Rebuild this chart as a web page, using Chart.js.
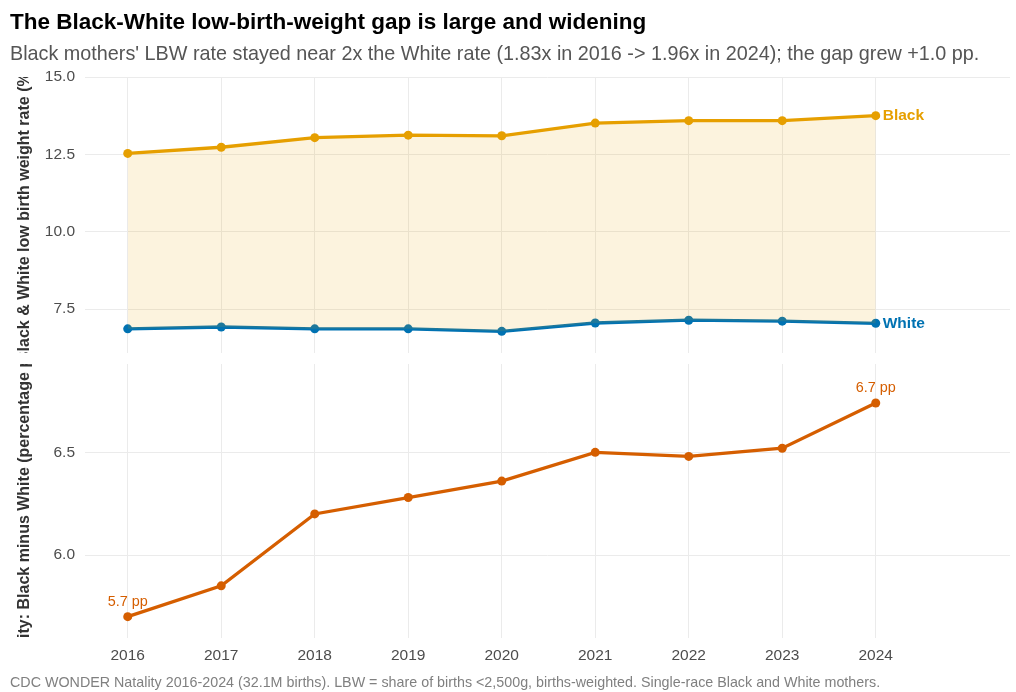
<!DOCTYPE html>
<html>
<head>
<meta charset="utf-8">
<script src="https://cdn.jsdelivr.net/npm/chart.js@4.4.1/dist/chart.umd.min.js"></script>
<style>
  html, body { margin: 0; padding: 0; background: #ffffff; }
  body { width: 1016px; height: 692px; position: relative; overflow: hidden; font-family: 'Liberation Sans', Arial, sans-serif; }
  canvas { position: absolute; left: 0; top: 0; }
  #title { position: absolute; left: 10px; top: 8.5px; font-size: 22.5px; line-height: normal; font-weight: bold; color: #000; white-space: nowrap; }
  #subtitle { position: absolute; left: 10px; top: 42px; font-size: 19.8px; line-height: normal; color: #555; white-space: nowrap; }
  #caption { position: absolute; left: 10px; top: 674px; font-size: 14.3px; line-height: normal; color: #808080; white-space: nowrap; }
</style>
</head>
<body>
<canvas id="topChart" width="1016" height="692"></canvas>
<canvas id="bottomChart" width="1016" height="692"></canvas>
<div id="title">The Black-White low-birth-weight gap is large and widening</div>
<div id="subtitle">Black mothers' LBW rate stayed near 2x the White rate (1.83x in 2016 -&gt; 1.96x in 2024); the gap grew +1.0 pp.</div>
<div id="caption">CDC WONDER Natality 2016-2024 (32.1M births). LBW = share of births &lt;2,500g, births-weighted. Single-race Black and White mothers.</div>
<script>
// ---- Data ----
const years = [2016, 2017, 2018, 2019, 2020, 2021, 2022, 2023, 2024];
const blackRate = [12.53, 12.73, 13.04, 13.12, 13.10, 13.51, 13.59, 13.59, 13.75];
const whiteRate = [6.86, 6.92, 6.86, 6.86, 6.78, 7.05, 7.14, 7.11, 7.04];
const gapPP = [5.70, 5.85, 6.20, 6.28, 6.36, 6.50, 6.48, 6.52, 6.74];
const topTicks = [7.5, 10.0, 12.5, 15.0];
const bottomTicks = [6.0, 6.5];
const xTicks = years;
const seriesNames = ['Black', 'White'];
const topTitle = 'Black & White low birth weight rate (%)';
const bottomTitle = 'Disparity: Black minus White (percentage points)';

// ---- Styles ----
const COL_BLACK = '#E69F00';
const COL_WHITE = '#0072B2';
const COL_GAP = '#D55E00';
const GRID = '#ebebeb';
const FONT = "'Liberation Sans', Arial, sans-serif";
Chart.defaults.font.family = FONT;
Chart.defaults.devicePixelRatio = 1;

const toXY = (vals) => years.map((y, i) => ({ x: y, y: vals[i] }));

const X_MIN = 2015.543, X_MAX = 2025.436;

function yTitlePlugin(text) {
  return {
    id: 'yTitle',
    afterDraw(chart) {
      const ca = chart.chartArea, ctx = chart.ctx;
      ctx.save();
      ctx.beginPath();
      ctx.rect(0, ca.top, ca.left, ca.bottom - ca.top);
      ctx.clip();
      ctx.translate(25, (ca.top + ca.bottom) / 2);
      ctx.rotate(-Math.PI / 2);
      ctx.font = 'bold 16px ' + FONT;
      ctx.fillStyle = '#333333';
      ctx.textAlign = 'center';
      ctx.textBaseline = 'middle';
      ctx.fillText(text, 0, 0);
      ctx.restore();
    }
  };
}

function xScaleOpts(showLabels) {
  return {
    type: 'linear',
    min: X_MIN, max: X_MAX,
    afterBuildTicks: (s) => { s.ticks = xTicks.map(v => ({ value: v })); },
    afterFit: (s) => { s.height = showLabels ? 30 : 0; },
    grid: { color: GRID, lineWidth: 1, drawTicks: false, tickLength: 0 },
    border: { display: false },
    ticks: {
      display: showLabels,
      padding: 8,
      color: '#4d4d4d',
      font: { size: 15.5 },
      callback: (v) => String(v),
      maxRotation: 0, autoSkip: false
    }
  };
}

function yScaleOpts(min, max, ticks) {
  return {
    type: 'linear',
    min: min, max: max,
    afterBuildTicks: (s) => { s.ticks = ticks.map(v => ({ value: v })); },
    afterFit: (s) => { s.width = 85; },
    grid: { color: GRID, lineWidth: 1, drawTicks: false, tickLength: 0 },
    border: { display: false },
    ticks: {
      padding: 10,
      color: '#4d4d4d',
      font: { size: 15.5 },
      callback: (v) => Number(v).toFixed(1)
    }
  };
}

// ---- Top chart ----
const endLabels = {
  id: 'endLabels',
  afterDatasetsDraw(chart) {
    const ctx = chart.ctx;
    const xs = chart.scales.x, ys = chart.scales.y;
    const last = years.length - 1;
    const items = [
      { name: seriesNames[0], v: blackRate[last], c: COL_BLACK },
      { name: seriesNames[1], v: whiteRate[last], c: COL_WHITE }
    ];
    ctx.save();
    ctx.font = 'bold 15.5px ' + FONT;
    ctx.textAlign = 'left';
    ctx.textBaseline = 'middle';
    items.forEach(it => {
      ctx.fillStyle = it.c;
      ctx.fillText(it.name, xs.getPixelForValue(years[last]) + 7, ys.getPixelForValue(it.v));
    });
    ctx.restore();
  }
};

new Chart(document.getElementById('topChart'), {
  type: 'line',
  data: {
    datasets: [
      {
        label: seriesNames[0],
        data: toXY(blackRate),
        borderColor: COL_BLACK,
        backgroundColor: 'rgba(230,159,0,0.13)',
        pointBackgroundColor: COL_BLACK,
        pointBorderWidth: 0,
        pointRadius: 4.5,
        borderWidth: 3.3,
        fill: 1,
        tension: 0
      },
      {
        label: seriesNames[1],
        data: toXY(whiteRate),
        borderColor: COL_WHITE,
        backgroundColor: COL_WHITE,
        pointBackgroundColor: COL_WHITE,
        pointBorderWidth: 0,
        pointRadius: 4.5,
        borderWidth: 3.3,
        fill: false,
        tension: 0
      }
    ]
  },
  options: {
    responsive: false,
    animation: false,
    events: [],
    layout: { padding: { top: 77, bottom: 339, left: 0, right: 6 } },
    plugins: { legend: { display: false }, tooltip: { enabled: false } },
    scales: {
      x: xScaleOpts(false),
      y: yScaleOpts(6.08, 15.0, topTicks)
    }
  },
  plugins: [yTitlePlugin(topTitle), endLabels]
});

// ---- Bottom chart ----
const gapLabels = {
  id: 'gapLabels',
  afterDatasetsDraw(chart) {
    const ctx = chart.ctx;
    const xs = chart.scales.x, ys = chart.scales.y;
    const idx = [0, years.length - 1];
    ctx.save();
    ctx.font = '14.4px ' + FONT;
    ctx.textAlign = 'center';
    ctx.textBaseline = 'middle';
    ctx.fillStyle = COL_GAP;
    idx.forEach(i => {
      ctx.fillText(gapPP[i].toFixed(1) + ' pp', xs.getPixelForValue(years[i]), ys.getPixelForValue(gapPP[i]) - 15);
    });
    ctx.restore();
  }
};

new Chart(document.getElementById('bottomChart'), {
  type: 'line',
  data: {
    datasets: [
      {
        label: 'Gap',
        data: toXY(gapPP),
        borderColor: COL_GAP,
        backgroundColor: COL_GAP,
        pointBackgroundColor: COL_GAP,
        pointBorderWidth: 0,
        pointRadius: 4.5,
        borderWidth: 3.3,
        fill: false,
        tension: 0
      }
    ]
  },
  options: {
    responsive: false,
    animation: false,
    events: [],
    layout: { padding: { top: 364, bottom: 24, left: 0, right: 6 } },
    plugins: { legend: { display: false }, tooltip: { enabled: false } },
    scales: {
      x: xScaleOpts(true),
      y: yScaleOpts(5.596, 6.93, bottomTicks)
    }
  },
  plugins: [yTitlePlugin(bottomTitle), gapLabels]
});
</script>
</body>
</html>
